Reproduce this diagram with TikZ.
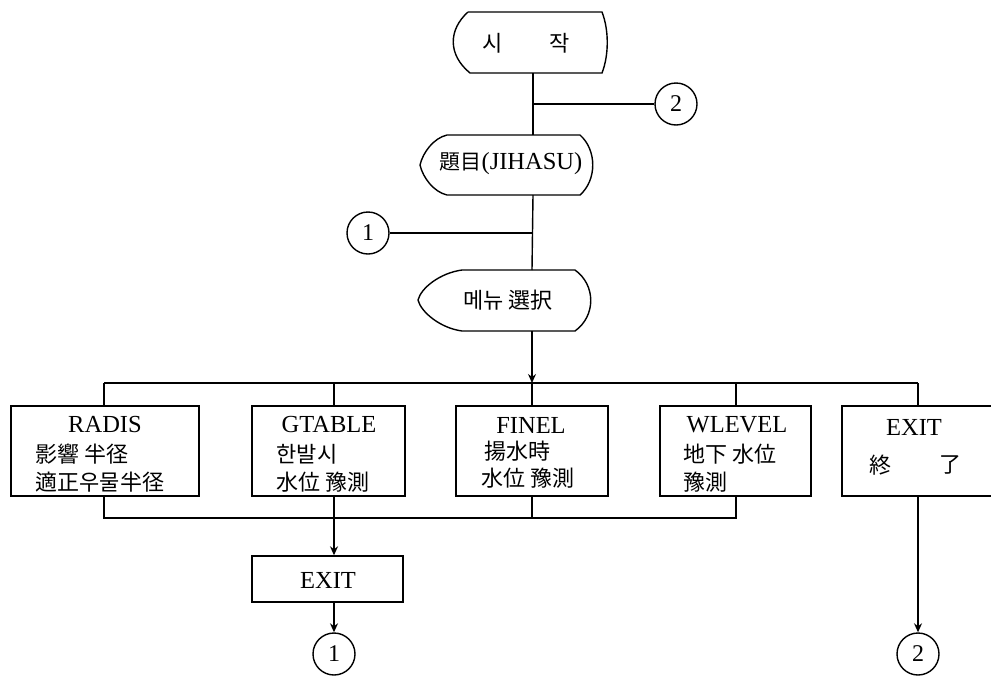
\documentclass[tikz,border=0pt]{standalone}
\usepackage{fontspec}
\setmainfont{Liberation Serif}
\newfontfamily\cjk{Noto Sans CJK KR}
\newcommand\ko[1]{{\cjk\fontsize{21}{24}\selectfont #1}}
\usetikzlibrary{arrows.meta,calc}
\begin{document}
\begin{tikzpicture}[x=1pt,y=-1pt,line width=1.4pt,
  lat/.style={font=\fontsize{24.5}{27}\selectfont,inner sep=0},
  kor/.style={font=\cjk\fontsize{22}{25}\selectfont,inner sep=0,anchor=west},
  box/.style={draw,rectangle,inner sep=0},
  conn/.style={draw,circle,minimum size=42pt,inner sep=0,font=\fontsize{24}{26}\selectfont},
  arr/.style={-{Stealth[length=9pt,width=8pt]}}]
\useasboundingbox (0,0) rectangle (991,675);

% start terminal
\draw (468,12) -- (602,12) .. controls (609,30) and (609,55) .. (602,73)
  -- (470,73) .. controls (448,55) and (448,30) .. (468,12);
\node[kor,anchor=center] (si) at (493,43) {시};
\node[kor,anchor=center] (jak) at (560,43) {작};
\coordinate (startB) at (533,73);
\coordinate (j2) at (533,104);
\node[conn] (c2a) at (676,104) {2};

% title display
\draw (447,135) -- (580,135) .. controls (597,150) and (597,180) .. (580,195)
  -- (447,195) .. controls (434,192) and (423,178) .. (420,165)
  .. controls (423,152) and (434,138) .. (447,135);
\node[lat] (title) at (511,164) {\ko{題目}(JIHASU)};
\coordinate (titleT) at (533,135);
\coordinate (titleB) at (533,195);
\coordinate (j1) at (533,233);
\node[conn] (c1a) at (368,233) {1};

% menu display
\draw (462,270) -- (575,270) .. controls (596,285) and (596,316) .. (575,331)
  -- (462,331) .. controls (440,328) and (421,312) .. (418,300)
  .. controls (421,288) and (440,273) .. (462,270);
\node[kor,anchor=center] (menu) at (508,300) {메뉴 選択};
\coordinate (menuT) at (532,270);
\coordinate (menuB) at (532,331);

\draw (startB) -- (titleT);
\draw (j2) -- (c2a);
\draw (titleB) -- (menuT);
\draw (j1) -- (c1a);

% top bus
\coordinate (tL) at (104,383);
\coordinate (tM) at (532,383);
\coordinate (tR) at (918,383);
\draw[arr] (menuB) -- (tM);
\draw (tL) -- (tR);

% boxes
\node[box,minimum width=188pt,minimum height=90pt] (radis) at (105,451) {};
\node[box,minimum width=153pt,minimum height=90pt] (gtable) at (328.5,451) {};
\node[box,minimum width=152pt,minimum height=90pt] (finel) at (532,451) {};
\node[box,minimum width=151pt,minimum height=90pt] (wlevel) at (735.5,451) {};
\node[box,minimum width=152pt,minimum height=90pt] (exitr) at (918,451) {};
\node[box,minimum width=151pt,minimum height=46pt] (exitl) at (327.5,579) {};

% box texts
\node[lat] (t1a) at (105,425) {RADIS};
\node[kor] (t1b) at (35,454) {影響 半径};
\node[kor] (t1c) at (35,482) {適正우물半径};
\node[lat] (t2a) at (329,425) {GTABLE};
\node[kor] (t2b) at (276,454) {한발시};
\node[kor] (t2c) at (276,482) {水位 豫測};
\node[lat] (t3a) at (531,425) {FINEL};
\node[kor] (t3b) at (484,451) {揚水時};
\node[kor] (t3c) at (481,478) {水位 豫測};
\node[lat] (t4a) at (737,425) {WLEVEL};
\node[kor] (t4b) at (683,454) {地下 水位};
\node[kor] (t4c) at (683,482) {豫測};
\node[lat] (t5a) at (914,427) {EXIT};
\node[kor,anchor=center] (t5b) at (880,465) {終};
\node[kor,anchor=center] (t5c) at (950,465) {了};
\node[lat] (t6a) at (328,580) {EXIT};

% drops from top bus
\coordinate (d1) at (104,383);
\coordinate (d2) at (334,383);
\coordinate (d4) at (736,383);
\draw (d1) -- (d1 |- radis.north);
\draw (d2) -- (d2 |- gtable.north);
\draw (tM) -- (finel.north);
\draw (d4) -- (d4 |- wlevel.north);
\draw (tR) -- (exitr.north);

% bottom bus
\coordinate (bL) at (104,518);
\coordinate (bR) at (736,518);
\coordinate (bG) at (334,518);
\draw (bL |- radis.south) -- (bL) -- (bR) -- (bR |- wlevel.south);
\draw (finel.south) -- (finel.south |- bL);
\draw[arr] (bG |- gtable.south) -- (bG |- exitl.north);

% bottom connectors
\node[conn] (c1b) at (334,654) {1};
\node[conn] (c2b) at (918,654) {2};
\draw[arr] (bG |- exitl.south) -- (c1b);
\draw[arr] (exitr.south) -- (c2b);
\end{tikzpicture}
\end{document}
